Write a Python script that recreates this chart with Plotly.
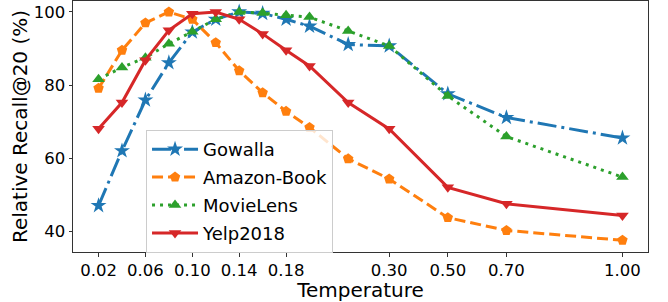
import numpy as np
import plotly.graph_objects as go

# ---- data ----
temperatures = [0.02, 0.04, 0.06, 0.08, 0.10, 0.12, 0.14, 0.16, 0.18, 0.20, 0.25, 0.30, 0.50, 0.70, 1.00]
gowalla   = [47.0, 62.0, 75.9, 86.1, 94.5, 98.0, 100.0, 99.6, 98.0, 96.1, 91.1, 90.7, 77.6, 71.1, 65.5]
amazon    = [79.1, 89.5, 97.0, 100.0, 98.0, 91.6, 83.9, 77.9, 72.8, 68.4, 59.8, 54.3, 43.7, 40.2, 37.5]
movielens = [81.6, 84.8, 87.5, 91.3, 94.6, 98.0, 100.0, 99.7, 99.1, 98.6, 94.8, 90.7, 77.0, 65.9, 54.8]
yelp      = [68.0, 75.2, 86.8, 95.0, 99.5, 100.0, 98.0, 94.0, 89.5, 85.2, 75.2, 68.0, 52.0, 47.5, 44.3]
tick_temps = [0.02, 0.06, 0.10, 0.14, 0.18, 0.30, 0.50, 0.70, 1.00]
tick_labels = ["0.02", "0.06", "0.10", "0.14", "0.18", "0.30", "0.50", "0.70", "1.00"]
y_ticks = [40, 60, 80, 100]

# ---- custom (piecewise) temperature axis scale ----
SCALE_T = [0.02, 0.20, 0.25, 0.30, 0.50, 0.70, 1.00]
SCALE_U = [0.0, 9.0, 10.65, 12.4, 14.9, 17.4, 22.35]


def tscale(t):
    return np.interp(np.asarray(t, dtype=float), SCALE_T, SCALE_U)


FONT = "DejaVu Sans"
series = [
    ("Gowalla", gowalla, "#1f77b4", "19px,5px,3px,5px", "star", 12),
    ("Amazon-Book", amazon, "#ff7f0e", "11px,5px", "pentagon", 11),
    ("MovieLens", movielens, "#2ca02c", "3px,5px", "triangle-up", 11),
    ("Yelp2018", yelp, "#d62728", "solid", "triangle-down", 11),
]

fig = go.Figure()
for name, vals, color, dash, sym, msize in series:
    fig.add_trace(go.Scatter(
        x=tscale(temperatures), y=vals, name=name, mode="lines+markers",
        line=dict(color=color, width=3, dash=dash),
        marker=dict(symbol=sym, size=msize, color=color, line=dict(width=0)),
        legendgroup=name,
    ))

fig.update_layout(
    width=668, height=302,
    margin=dict(l=73, r=20, t=1, b=50),
    paper_bgcolor="white", plot_bgcolor="white",
    font=dict(family=FONT, size=16, color="black"),
    showlegend=True,
    legend=dict(
        x=0.127, y=0.486, xanchor="left", yanchor="top",
        bgcolor="rgba(255,255,255,0.8)", bordercolor="#cccccc", borderwidth=1,
        font=dict(family=FONT, size=18, color="black"),
        tracegroupgap=1.5, itemwidth=46,
    ),
)
fig.update_xaxes(
    range=[-1.09, 23.44], tickmode="array",
    tickvals=tscale(tick_temps), ticktext=tick_labels,
    showgrid=False, zeroline=False, automargin=False,
    showline=True, mirror=True, linecolor="#333333", linewidth=1,
    ticks="outside", ticklen=3.5, tickcolor="#333333",
    tickfont=dict(size=16.5),
    title=dict(text="Temperature", font=dict(size=20), standoff=3),
)
fig.update_yaxes(
    range=[34.3, 103.0], tickmode="array", tickvals=y_ticks,
    showgrid=False, zeroline=False, automargin=False,
    showline=True, mirror=True, linecolor="#333333", linewidth=1,
    ticks="outside", ticklen=3.5, tickcolor="#333333",
    tickfont=dict(size=16.5),
    title=dict(text="Relative Recall@20 (%)", font=dict(size=20), standoff=0),
)

fig.write_html("out.html", config={"displayModeBar": False},
               post_script="document.body.style.margin='0';")
